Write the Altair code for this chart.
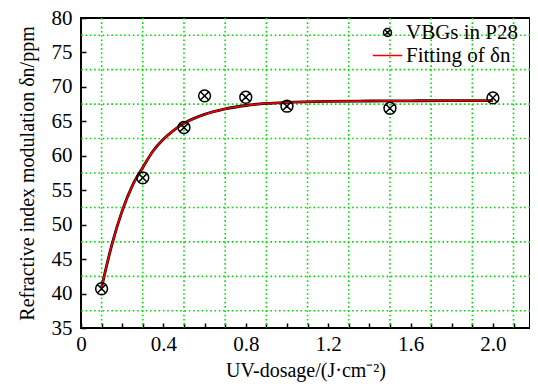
import altair as alt
import pandas as pd

# measured points
dose = [0.1, 0.3, 0.5, 0.6, 0.8, 1.0, 1.5, 2.0]
dn = [40.7, 56.8, 64.1, 68.7, 68.5, 67.2, 66.9, 68.4]

# fitted curve
fit_x = [0.1, 0.12, 0.15, 0.2, 0.25, 0.3, 0.35, 0.4, 0.45, 0.5, 0.6, 0.7, 0.8, 0.9,
         1.0, 1.2, 1.4, 1.6, 1.8, 2.0]
fit_y = [40.9, 43.5, 47.1, 52.0, 55.7, 58.3, 60.7, 62.4, 63.7, 64.7, 66.0, 66.8, 67.3,
         67.6, 67.75, 67.9, 67.95, 67.98, 68.0, 68.0]

series_names = ["VBGs in P28", "Fitting of δn"]
series_colors = ["black", "#ee0000"]

# grid positions (offset from ticks in the original)
grid_x = [0.1, 0.3, 0.5, 0.7, 0.9, 1.1, 1.3, 1.5, 1.7, 1.9, 2.1]
grid_y = [37.5, 42.5, 47.5, 52.5, 57.5, 62.5, 67.5, 72.5, 77.5]

x_ticks = [round(i * 0.1, 1) for i in range(0, 22)]
y_ticks = [35, 40, 45, 50, 55, 60, 65, 70, 75, 80]

FONT = "Liberation Serif"

pts = pd.DataFrame({"x": dose, "y": dn, "series": series_names[0]})
fit = pd.DataFrame({"x": fit_x, "y": fit_y, "series": series_names[1]})
gx = pd.DataFrame({"x": grid_x})
gy = pd.DataFrame({"y": grid_y})

marker_path = ("M-1,0A1,1,0,1,0,1,0A1,1,0,1,0,-1,0"
               "M-0.7071,-0.7071L0.7071,0.7071M-0.7071,0.7071L0.7071,-0.7071")
line_path = "M-3.7,0L3.7,0"

xscale = alt.Scale(domain=[0, 2.18], nice=False, zero=False)
yscale = alt.Scale(domain=[35, 80], nice=False, zero=False)

xaxis = alt.Axis(
    title="UV-dosage/(J·cm⁻²)", values=x_ticks, offset=-5, tickSize=5, tickWidth=1.5,
    tickColor="black", domain=False, grid=False, labelFontSize=21,
    labelColor="black", labelPadding=5, labelFlush=False, labelOverlap=False,
    labelExpr="round(datum.value*10) % 4 == 0 ? (datum.value == 0 ? '0' : format(datum.value, '.1f')) : ''",
    titleFontSize=20, titleFontWeight="normal", titleColor="black",
    titlePadding=6,
)
yaxis = alt.Axis(
    title="Refractive index modulation δn/ppm", values=y_ticks, offset=-5, tickSize=5,
    tickWidth=1.5, tickColor="black", domain=False, grid=False,
    labelFontSize=21, labelColor="black", labelPadding=9, labelOverlap=False,
    format="d", titleFontSize=20, titleFontWeight="normal",
    titleColor="black", titlePadding=14,
)

legend = alt.Legend(
    title=None, orient="none", legendX=296, legendY=4,
    labelFontSize=21, labelColor="black", symbolSize=64, labelOffset=8,
    rowPadding=1, padding=0, symbolStrokeWidth=1.5,
)
color_scale = alt.Scale(domain=series_names, range=series_colors)
shape_scale = alt.Scale(domain=series_names, range=[marker_path, line_path])

grid_style = dict(color="#00dd00", strokeWidth=1.6, strokeDash=[1.6, 2.7])

vgrid = alt.Chart(gx).mark_rule(**grid_style).encode(
    x=alt.X("x:Q", scale=xscale, axis=xaxis)
)
hgrid = alt.Chart(gy).mark_rule(**grid_style).encode(
    y=alt.Y("y:Q", scale=yscale, axis=yaxis)
)

fit_under = alt.Chart(fit).mark_line(color="black", strokeWidth=2.8, interpolate="monotone").encode(
    x=alt.X("x:Q", scale=xscale, axis=xaxis),
    y=alt.Y("y:Q", scale=yscale, axis=yaxis),
)
fit_line = alt.Chart(fit).mark_line(strokeWidth=1.7, interpolate="monotone").encode(
    x=alt.X("x:Q", scale=xscale, axis=xaxis),
    y=alt.Y("y:Q", scale=yscale, axis=yaxis),
    color=alt.Color("series:N", scale=color_scale, legend=legend),
)
points = alt.Chart(pts).mark_point(filled=False, size=140, strokeWidth=1.5, opacity=1).encode(
    x=alt.X("x:Q", scale=xscale, axis=xaxis),
    y=alt.Y("y:Q", scale=yscale, axis=yaxis),
    color=alt.Color("series:N", scale=color_scale, legend=legend),
    shape=alt.Shape("series:N", scale=shape_scale, legend=legend),
)

chart = alt.layer(vgrid, hgrid, fit_under, fit_line, points).properties(
    width=449, height=310,
    autosize=alt.AutoSizeParams(type="none"),
    padding={"left": 73, "top": 10, "right": 0, "bottom": 56},
    background="white",
).configure(font=FONT).configure_view(stroke="black", strokeWidth=2).configure_axis(
    labelFont=FONT, titleFont=FONT
).configure_legend(labelFont=FONT)

chart.save("out.html", embed_options={"renderer": "svg", "actions": False})
